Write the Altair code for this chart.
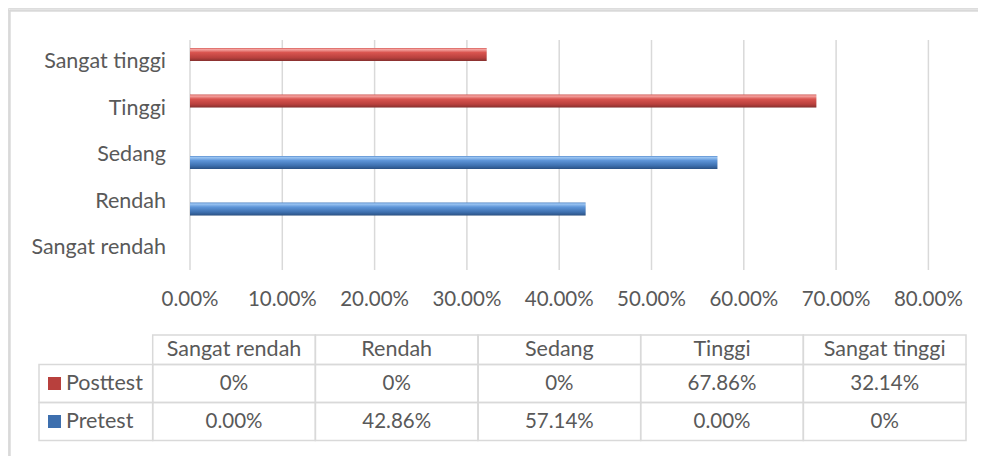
import altair as alt
import pandas as pd

# ---- data ----
categories = ["Sangat rendah", "Rendah", "Sedang", "Tinggi", "Sangat tinggi"]
series = ["Posttest", "Pretest"]
posttest = [0.0, 0.0, 0.0, 0.6786, 0.3214]
pretest = [0.0, 0.4286, 0.5714, 0.0, 0.0]
posttest_labels = ["0%", "0%", "0%", "67.86%", "32.14%"]
pretest_labels = ["0.00%", "42.86%", "57.14%", "0.00%", "0%"]
x_ticks = [0.0, 0.1, 0.2, 0.3, 0.4, 0.5, 0.6, 0.7, 0.8]

FONT = "Lato"
FS_WORD = 21.5
FS_NUM = 20.5
TXT = "#595959"
GRID = "#d9d9d9"

rows = []
for i, c in enumerate(categories):
    rows.append({"cat": c, "series": "Posttest", "value": posttest[i], "label": posttest_labels[i]})
    rows.append({"cat": c, "series": "Pretest", "value": pretest[i], "label": pretest_labels[i]})
df = pd.DataFrame(rows)
ticks_df = pd.DataFrame({"tick": x_ticks, "tlabel": [f"{t*100:.2f}%" for t in x_ticks]})
cats_df = pd.DataFrame({"cat": categories})
series_df = pd.DataFrame({"series": series})

# ---- scales ----
x_val = alt.X("value:Q", scale=alt.Scale(domain=[0, 0.8], range=[182, 920.4], nice=False, zero=False), axis=None)
x_tick = alt.X("tick:Q", scale=alt.Scale(domain=[0, 0.8], range=[182, 920.4], nice=False, zero=False), axis=None)
cat_order_top = categories[::-1]
y_cat = alt.Y("cat:N", scale=alt.Scale(domain=cat_order_top, range=[30.75, 263.25], paddingInner=0, paddingOuter=0), axis=None)
y_off = alt.YOffset("series:N", scale=alt.Scale(domain=series, range=[9.25, 37.25], paddingInner=2 / 15, paddingOuter=0))

tab_x = alt.X("cat:N", scale=alt.Scale(domain=categories, range=[144.7, 958], paddingInner=0, paddingOuter=0), axis=None)
tab_y = alt.Y("series:N", scale=alt.Scale(domain=series, range=[356.5, 432.5], paddingInner=0, paddingOuter=0), axis=None)


def grad(stops):
    return alt.Gradient(
        gradient="linear",
        stops=[alt.GradientStop(color=c, offset=o) for o, c in stops],
        x1=0, x2=0, y1=0, y2=1,
    )


red = grad([(0, "#d9605c"), (0.12, "#f4a3a0"), (0.35, "#d9544f"), (0.75, "#b8403d"), (1, "#86302e")])
blue = grad([(0, "#5a8fd0"), (0.12, "#9ac4f2"), (0.35, "#5e95d8"), (0.75, "#3d6fae"), (1, "#2b5183")])

base = alt.Chart(df)

frame_top = alt.Chart(cats_df).mark_rule(color=GRID, strokeWidth=1.5).encode(
    x=alt.value(1.5), x2=alt.value(970), y=alt.value(2.5))
frame_left = alt.Chart(cats_df).mark_rule(color=GRID, strokeWidth=1.5).encode(
    x=alt.value(1.5), y=alt.value(2.5), y2=alt.value(448))

grid = alt.Chart(ticks_df).mark_rule(color=GRID, strokeWidth=1.5).encode(
    x=x_tick, y=alt.value(32), y2=alt.value(262))

xlabels = alt.Chart(ticks_df).mark_text(font=FONT, fontSize=FS_NUM, color=TXT, baseline="middle").encode(
    x=x_tick, y=alt.value(292), text="tlabel:N")

ylabels = alt.Chart(cats_df).mark_text(font=FONT, fontSize=FS_WORD, color=TXT, align="right", baseline="middle").encode(
    y=y_cat, x=alt.value(158), text="cat:N")

shadow = base.mark_bar(fill="#000000", opacity=0.13, yOffset=2.5).encode(
    x=x_val, x2=alt.datum(0), y=y_cat, yOffset=y_off)
bars_post = base.transform_filter(alt.datum.series == "Posttest").mark_bar(fill=red).encode(
    x=x_val, x2=alt.datum(0), y=y_cat, yOffset=y_off)
bars_pre = base.transform_filter(alt.datum.series == "Pretest").mark_bar(fill=blue).encode(
    x=x_val, x2=alt.datum(0), y=y_cat, yOffset=y_off)

head_cells = alt.Chart(cats_df).mark_rect(fill="transparent", stroke=GRID, strokeWidth=1.5).encode(
    x=tab_x, y=alt.value(327), y2=alt.value(356.5))
data_cells = base.mark_rect(fill="transparent", stroke=GRID, strokeWidth=1.5).encode(x=tab_x, y=tab_y)
label_cells = alt.Chart(series_df).mark_rect(fill="transparent", stroke=GRID, strokeWidth=1.5).encode(
    x=alt.value(31), x2=alt.value(144.7), y=tab_y)

head_text = alt.Chart(cats_df).mark_text(font=FONT, fontSize=FS_WORD, color=TXT, baseline="middle").encode(
    x=tab_x, y=alt.value(342), text="cat:N")
val_text = base.mark_text(font=FONT, fontSize=FS_NUM, color=TXT, baseline="middle").encode(
    x=tab_x, y=tab_y, text="label:N")
ser_text = alt.Chart(series_df).mark_text(font=FONT, fontSize=FS_WORD, color=TXT, align="left", baseline="middle").encode(
    x=alt.value(58), y=tab_y, text="series:N")
swatch = alt.Chart(series_df).mark_square(size=169, opacity=1).encode(
    x=alt.value(54.5 - 8), y=tab_y,
    color=alt.Color("series:N", scale=alt.Scale(domain=series, range=["#b8403d", "#3d6fae"]), legend=None))

chart = alt.layer(
    frame_top, frame_left, grid, xlabels, ylabels, shadow, bars_post, bars_pre,
    head_cells, data_cells, label_cells, head_text, val_text, ser_text, swatch,
).resolve_scale(x="independent", y="independent").properties(
    width=970, height=448, padding=0, autosize=alt.AutoSizeParams(type="none"),
).configure_view(stroke=None).configure(background="white")

chart.save("out.html", embed_options={"renderer": "svg", "actions": False})
